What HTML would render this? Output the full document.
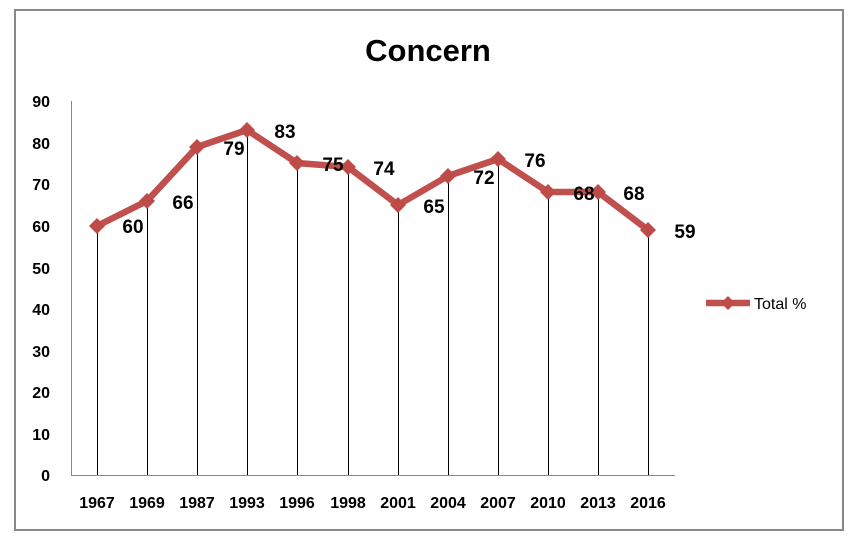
<!DOCTYPE html>
<html><head><meta charset="utf-8"><style>
body{margin:0;background:#fff;}
svg{display:block;font-family:"Liberation Sans",sans-serif;}
</style></head><body>
<svg width="855" height="543" viewBox="0 0 855 543" xmlns="http://www.w3.org/2000/svg">
<rect x="15" y="10" width="828" height="520" fill="#fff" stroke="#888" stroke-width="2"/>
<text x="428" y="61" font-size="31" font-weight="bold" text-anchor="middle" fill="#000">Concern</text>
<line x1="71.5" y1="101" x2="71.5" y2="475" stroke="#888" stroke-width="1"/>
<line x1="71" y1="475.5" x2="675" y2="475.5" stroke="#888" stroke-width="1"/>
<g font-size="16" font-weight="bold" text-anchor="end" fill="#000">
<text x="50" y="107">90</text><text x="50" y="149">80</text><text x="50" y="190">70</text>
<text x="50" y="232">60</text><text x="50" y="274">50</text><text x="50" y="315">40</text>
<text x="50" y="357">30</text><text x="50" y="398">20</text><text x="50" y="440">10</text>
<text x="50" y="481">0</text>
</g>
<g font-size="16" font-weight="bold" text-anchor="middle" fill="#000">
<text x="97" y="508">1967</text><text x="147" y="508">1969</text><text x="197" y="508">1987</text>
<text x="247" y="508">1993</text><text x="297" y="508">1996</text><text x="348" y="508">1998</text>
<text x="398" y="508">2001</text><text x="448" y="508">2004</text><text x="498" y="508">2007</text>
<text x="548" y="508">2010</text><text x="598" y="508">2013</text><text x="648" y="508">2016</text>
</g>
<g stroke="#000" stroke-width="1" shape-rendering="crispEdges">
<line x1="97.5" y1="226" x2="97.5" y2="475"/><line x1="147.5" y1="201" x2="147.5" y2="475"/>
<line x1="197.5" y1="147" x2="197.5" y2="475"/><line x1="247.5" y1="130" x2="247.5" y2="475"/>
<line x1="297.5" y1="163" x2="297.5" y2="475"/><line x1="348.5" y1="167" x2="348.5" y2="475"/>
<line x1="398.5" y1="205" x2="398.5" y2="475"/><line x1="448.5" y1="176" x2="448.5" y2="475"/>
<line x1="498.5" y1="159" x2="498.5" y2="475"/><line x1="548.5" y1="192" x2="548.5" y2="475"/>
<line x1="598.5" y1="192" x2="598.5" y2="475"/><line x1="648.5" y1="230" x2="648.5" y2="475"/>
</g>
<polyline points="97,226 147,201 197,147 247,130 297,163 348,167 398,205 448,176 498,159 548,192 598,192 648,230" fill="none" stroke="#c0504d" stroke-width="6.5" stroke-linejoin="round"/>
<g fill="#be4b48">
<path d="M97,218l8,8l-8,8l-8,-8z"/><path d="M147,193l8,8l-8,8l-8,-8z"/>
<path d="M197,139l8,8l-8,8l-8,-8z"/><path d="M247,122l8,8l-8,8l-8,-8z"/>
<path d="M297,155l8,8l-8,8l-8,-8z"/><path d="M348,159l8,8l-8,8l-8,-8z"/>
<path d="M398,197l8,8l-8,8l-8,-8z"/><path d="M448,168l8,8l-8,8l-8,-8z"/>
<path d="M498,151l8,8l-8,8l-8,-8z"/><path d="M548,184l8,8l-8,8l-8,-8z"/>
<path d="M598,184l8,8l-8,8l-8,-8z"/><path d="M648,222l8,8l-8,8l-8,-8z"/>
</g>
<g font-size="19" font-weight="bold" fill="#000" text-anchor="middle">
<text x="133" y="233">60</text><text x="183" y="209">66</text><text x="234" y="155">79</text>
<text x="285" y="138">83</text><text x="333" y="171">75</text><text x="384" y="175">74</text>
<text x="434" y="213">65</text><text x="484" y="184">72</text><text x="535" y="167">76</text>
<text x="584" y="200">68</text><text x="634" y="200">68</text><text x="685" y="238">59</text>
</g>
<line x1="706" y1="303" x2="750" y2="303" stroke="#c0504d" stroke-width="6.5"/>
<path d="M728,296l7,7l-7,7l-7,-7z" fill="#be4b48"/>
<text x="754" y="309" font-size="16" fill="#000">Total %</text>
</svg>
</body></html>
